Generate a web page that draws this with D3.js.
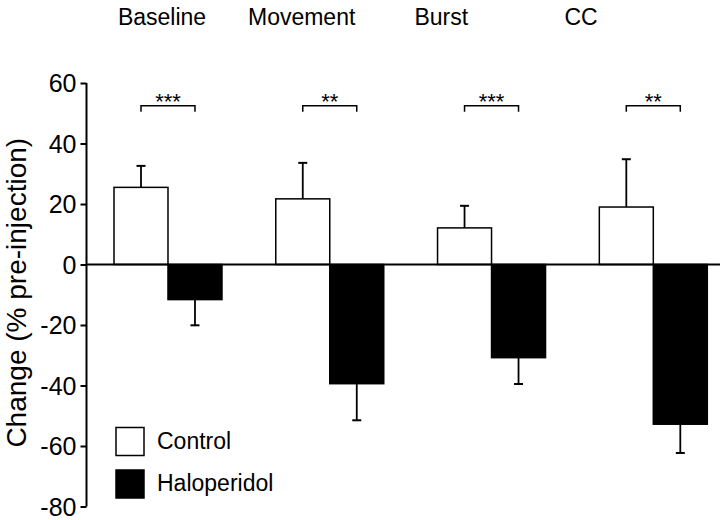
<!DOCTYPE html>
<html>
<head>
<meta charset="utf-8">
<script src="https://cdn.jsdelivr.net/npm/d3@7"></script>
<style>
  html, body { margin: 0; padding: 0; background: #fff; }
  svg { display: block; }
  text { font-family: "Liberation Sans", Arial, Helvetica, sans-serif; fill: #000; }
</style>
</head>
<body>
<svg id="chart" width="720" height="520"></svg>
<script>
// ---- data ----
const categories = ["Baseline", "Movement", "Burst", "CC"];
const series = ["Control", "Haloperidol"];
const controlValues = [25.5, 21.7, 12.1, 19.0];
const controlErrors = [7.1, 11.9, 7.3, 15.8];
const haloValues = [-11.6, -39.4, -30.8, -52.8];
const haloErrors = [8.5, 12.1, 8.7, 9.5];
const significance = ["***", "**", "***", "**"];
const yTicks = [60, 40, 20, 0, -20, -40, -60, -80];
const yTitle = "Change (% pre-injection)";

const svg = d3.select("#chart");

const y = d3.scaleLinear().domain([-80, 60]).range([506.5, 83]);
const x = d3.scaleBand().domain(categories).range([114, 707.3]).paddingInner(0.3325).paddingOuter(0);
const xs = d3.scaleBand().domain(series).range([0, x.bandwidth()]).padding(0);
const labelX = d3.scalePoint().domain(categories).range([162, 581]);

const data = [];
categories.forEach((c, i) => {
  data.push({cat: c, s: "Control", v: controlValues[i], e: controlErrors[i]});
  data.push({cat: c, s: "Haloperidol", v: haloValues[i], e: haloErrors[i]});
});
const fill = {Control: "#fff", Haloperidol: "#000"};

// y axis
const axisX = 86.5;
const yAxis = d3.axisLeft(y).tickValues(yTicks).tickSize(6).tickPadding(4).tickFormat(d => String(d));
const ga = svg.append("g").attr("transform", `translate(${axisX},0)`).call(yAxis);
ga.select(".domain").attr("stroke", "#000").attr("stroke-width", 2).attr("d", `M0,${y(60)}V${y(-80)}`);
ga.selectAll(".tick line").attr("stroke", "#000").attr("stroke-width", 2);
ga.selectAll(".tick text").style("font-size", "25px").attr("dy", "0.35em")
  .style("font-family", '"Liberation Sans", Arial, sans-serif').attr("fill", "#000");

// y title
svg.append("text")
  .attr("transform", `translate(26,${(y(60) + y(-80)) / 2 - 2}) rotate(-90)`)
  .attr("text-anchor", "middle")
  .style("font-size", "28px")
  .text(yTitle);

// bars
svg.selectAll("rect.bar").data(data).join("rect")
  .attr("class", "bar")
  .attr("x", d => x(d.cat) + xs(d.s))
  .attr("width", xs.bandwidth())
  .attr("y", d => Math.min(y(d.v), y(0)))
  .attr("height", d => Math.abs(y(d.v) - y(0)))
  .attr("fill", d => fill[d.s])
  .attr("stroke", "#000")
  .attr("stroke-width", 1.5);

// error bars
const cap = 4.5;
const eg = svg.selectAll("g.err").data(data).join("g").attr("class", "err");
eg.append("line")
  .attr("x1", d => x(d.cat) + xs(d.s) + xs.bandwidth() / 2)
  .attr("x2", d => x(d.cat) + xs(d.s) + xs.bandwidth() / 2)
  .attr("y1", d => y(d.v))
  .attr("y2", d => y(d.v + Math.sign(d.v) * d.e))
  .attr("stroke", "#000").attr("stroke-width", 1.8);
eg.append("line")
  .attr("x1", d => x(d.cat) + xs(d.s) + xs.bandwidth() / 2 - cap)
  .attr("x2", d => x(d.cat) + xs(d.s) + xs.bandwidth() / 2 + cap)
  .attr("y1", d => y(d.v + Math.sign(d.v) * d.e))
  .attr("y2", d => y(d.v + Math.sign(d.v) * d.e))
  .attr("stroke", "#000").attr("stroke-width", 2);

// zero line
svg.append("line")
  .attr("x1", axisX).attr("x2", 720)
  .attr("y1", y(0)).attr("y2", y(0))
  .attr("stroke", "#000").attr("stroke-width", 2);

// significance brackets
const by = y(52.5);
categories.forEach((c, i) => {
  const x1 = x(c) + xs("Control") + xs.bandwidth() / 2;
  const x2 = x(c) + xs("Haloperidol") + xs.bandwidth() / 2;
  svg.append("path")
    .attr("d", `M${x1},${by + 6}V${by}H${x2}V${by + 6}`)
    .attr("fill", "none").attr("stroke", "#000").attr("stroke-width", 1.5);
  svg.append("text")
    .attr("x", (x1 + x2) / 2).attr("y", by + 3)
    .attr("text-anchor", "middle")
    .style("font-size", "22px")
    .text(significance[i]);
});

// category labels
svg.selectAll("text.cat").data(categories).join("text")
  .attr("class", "cat")
  .attr("x", d => labelX(d)).attr("y", 25)
  .attr("text-anchor", "middle")
  .style("font-size", "23px")
  .text(d => d);

// legend
const legY = [427.5, 470];
series.forEach((s, i) => {
  svg.append("rect")
    .attr("x", 116).attr("y", legY[i]).attr("width", 28).attr("height", 28)
    .attr("fill", fill[s]).attr("stroke", "#000").attr("stroke-width", 1.5);
  svg.append("text")
    .attr("x", 157).attr("y", legY[i] + 21)
    .style("font-size", "23px")
    .text(s);
});
</script>
</body>
</html>
